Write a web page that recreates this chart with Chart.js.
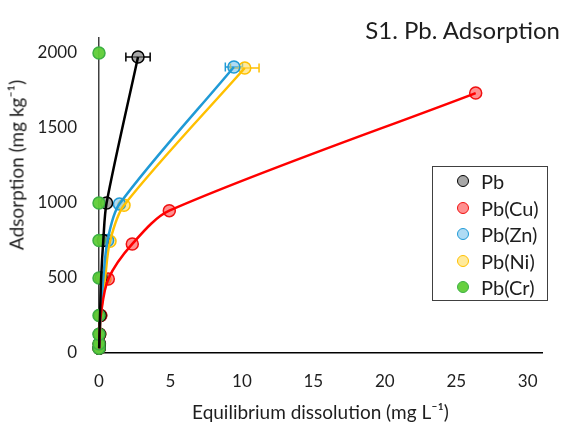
<!DOCTYPE html>
<html><head><meta charset="utf-8">
<script src="https://cdn.jsdelivr.net/npm/chart.js@4"></script>
<style>
html,body{margin:0;padding:0;background:#fff;}
#wrap{position:relative;width:565px;height:428px;font-family:Lato,"Open Sans",sans-serif;color:#1e1e1e;overflow:hidden;}
#c{position:absolute;left:0;top:0;}
#title{position:absolute;right:5px;top:15px;font-size:24px;white-space:nowrap;}
#ytitle{position:absolute;left:16px;top:165px;transform:translate(-50%,-50%) rotate(-90deg);white-space:nowrap;font-size:19px;}
#legend{position:absolute;left:432px;top:166px;width:116px;height:135px;border:1px solid #404040;box-sizing:border-box;}
.it{position:absolute;left:0;width:100%;height:24px;}
.dot{position:absolute;left:24px;top:6px;width:10px;height:10px;border-radius:50%;border:1.5px solid #000;}
.lb{position:absolute;left:48px;top:0;font-size:20px;line-height:24px;white-space:nowrap;}
</style>
</head><body>
<div id="wrap">
<canvas id="c" width="565" height="428"></canvas>
<div id="title">S1. Pb. Adsorption</div>
<div id="ytitle">Adsorption (mg kg⁻¹)</div>
<div id="legend"></div>
</div>
<script>
// ---- data ----
const seriesNames = ["Pb", "Pb(Cu)", "Pb(Zn)", "Pb(Ni)", "Pb(Cr)"];
const pbX  = [0.01, 0.02, 0.03, 0.07, 0.15, 0.30, 0.53, 2.73];
const pbY  = [31, 62, 125, 250, 500, 750, 1000, 1973];
const pbErr = [0, 0, 0, 0, 0, 0, 0, 0.85];
const cuX  = [0.01, 0.02, 0.05, 0.12, 0.65, 2.33, 4.92, 26.36];
const cuY  = [31, 62, 125, 250, 493, 727, 949, 1733];
const cuErr = [0, 0, 0, 0, 0, 0, 0, 0];
const znX  = [0.01, 0.03, 0.05, 0.12, 0.30, 0.60, 1.43, 9.44];
const znY  = [31, 62, 125, 250, 495, 750, 993, 1907];
const znErr = [0, 0, 0, 0, 0, 0, 0, 0.6];
const niX  = [0.01, 0.03, 0.05, 0.12, 0.42, 0.77, 1.75, 10.2];
const niY  = [31, 62, 125, 250, 493, 745, 985, 1900];
const niErr = [0, 0, 0, 0, 0, 0, 0, 1.0];
const crX  = [0, 0, 0, 0, 0, 0, 0, 0];
const crY  = [31, 62, 125, 250, 500, 750, 1000, 2000];
const xTicks = [0, 5, 10, 15, 20, 25, 30];
const yTicks = [0, 500, 1000, 1500, 2000];

const styles = [
  {line:'#000000', fill:'rgba(120,120,120,0.65)', border:'#000000', showLine:true},
  {line:'#ff0000', fill:'rgba(255,70,70,0.6)', border:'#f01010', showLine:true},
  {line:'#1f9ad6', fill:'rgba(110,190,235,0.55)', border:'#1f9ad6', showLine:true},
  {line:'#ffc000', fill:'rgba(255,220,90,0.6)', border:'#ffc000', showLine:true},
  {line:'#3cb043', fill:'rgba(95,205,55,0.95)', border:'#3cb043', showLine:false}
];
const xs = [pbX, cuX, znX, niX, crX];
const ys = [pbY, cuY, znY, niY, crY];
const errs = [pbErr, cuErr, znErr, niErr, null];

const pts = k => xs[k].map((x, i) => ({x: x, y: ys[k][i]}));

// marker datasets
const markerSets = seriesNames.map((n, k) => ({
  label: n,
  data: pts(k),
  errX: errs[k],
  errColor: styles[k].line,
  showLine: false,
  pointRadius: 6,
  pointHoverRadius: 6,
  pointBackgroundColor: styles[k].fill,
  pointBorderColor: styles[k].border,
  pointBorderWidth: 1.5,
  order: k === 4 ? 1 : 2,
  clip: false
}));
// curve datasets (drawn above the markers)
const lineSets = seriesNames.filter((n, k) => styles[k].showLine).map((n, k) => ({
  label: n + ' curve',
  data: pts(k),
  showLine: true,
  borderColor: styles[k].line,
  borderWidth: 2.5,
  tension: 0.3,
  pointRadius: 0,
  pointHoverRadius: 0,
  order: 0,
  clip: false
}));

const errPlugin = {
  id: 'errbars',
  beforeDatasetsDraw(chart) {
    const ctx = chart.ctx, xS = chart.scales.x, yS = chart.scales.y;
    chart.data.datasets.forEach(ds => {
      if (!ds.errX) return;
      ds.data.forEach((p, i) => {
        const e = ds.errX[i];
        if (!e) return;
        const x1 = xS.getPixelForValue(p.x - e), x2 = xS.getPixelForValue(p.x + e);
        const yy = yS.getPixelForValue(p.y);
        ctx.save();
        ctx.strokeStyle = ds.errColor;
        ctx.lineWidth = 1.5;
        ctx.beginPath();
        ctx.moveTo(x1, yy); ctx.lineTo(x2, yy);
        ctx.moveTo(x1, yy - 4.5); ctx.lineTo(x1, yy + 4.5);
        ctx.moveTo(x2, yy - 4.5); ctx.lineTo(x2, yy + 4.5);
        ctx.stroke();
        ctx.restore();
      });
    });
  }
};

new Chart(document.getElementById('c'), {
  type: 'scatter',
  data: {datasets: markerSets.concat(lineSets)},
  options: {
    responsive: false,
    animation: false,
    events: [],
    layout: {padding: {top: 38, right: 23, left: 0, bottom: 0}},
    plugins: {legend: {display: false}, title: {display: false}, tooltip: {enabled: false}},
    scales: {
      x: {
        type: 'linear', min: 0, max: 31,
        grid: {display: false, drawTicks: false},
        border: {display: true, color: '#000000', width: 1.5},
        ticks: {stepSize: 5, padding: 18, color: '#1e1e1e', font: {family: 'Lato', size: 17},
                callback: v => String(v)},
        afterBuildTicks: s => { s.ticks = xTicks.map(v => ({value: v})); },
        afterFit: s => { s.height = 75; },
        title: {display: true, text: 'Equilibrium dissolution (mg L⁻¹)', color: '#1e1e1e',
                font: {family: 'Lato', size: 19}, padding: {top: 0, bottom: 4}}
      },
      y: {
        type: 'linear', min: 0, max: 2100,
        grid: {display: false, drawTicks: false},
        border: {display: true, color: '#404040', width: 1.5},
        ticks: {stepSize: 500, padding: 22, color: '#1e1e1e', font: {family: 'Lato', size: 17},
                callback: v => String(v)},
        afterBuildTicks: s => { s.ticks = yTicks.map(v => ({value: v})); },
        afterFit: s => { s.width = 99; }
      }
    }
  },
  plugins: [errPlugin]
});

// HTML legend built from the same series
const lg = document.getElementById('legend');
const rowTops = [2, 29, 55, 82, 108];
seriesNames.forEach((n, k) => {
  const it = document.createElement('div');
  it.className = 'it';
  it.style.top = rowTops[k] + 'px';
  const d = document.createElement('div');
  d.className = 'dot';
  d.style.background = styles[k].fill;
  d.style.borderColor = styles[k].border;
  const t = document.createElement('div');
  t.className = 'lb';
  t.textContent = n;
  it.appendChild(d); it.appendChild(t);
  lg.appendChild(it);
});
</script>
</body></html>
